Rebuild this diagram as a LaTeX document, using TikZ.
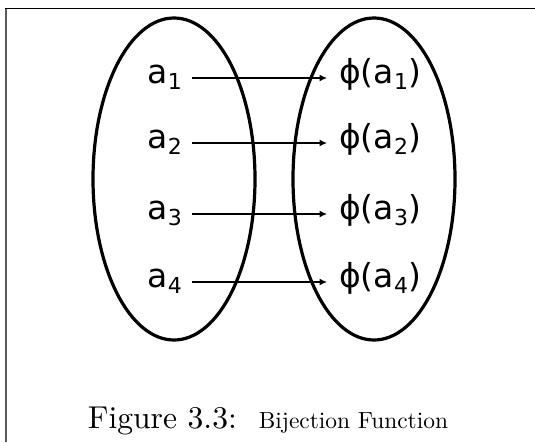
\documentclass[tikz,border=0pt]{standalone}
\usepackage{fontspec}
\newfontfamily\dejavu{DejaVu Sans}
\usetikzlibrary{arrows.meta,positioning}
\newcommand{\sbs}[1]{\raisebox{-6pt}{\fontsize{22}{22}\selectfont #1}}
\begin{document}
\begin{tikzpicture}[x=1pt,y=-1pt,>={Latex[length=7.5pt,width=7pt]}]
\tikzstyle{setline}=[line width=3.2pt]
\tikzstyle{elem}=[font=\dejavu\fontsize{33}{33}\selectfont, inner ysep=0pt, text height=10pt, text depth=0pt]
\tikzstyle{dom}=[elem, anchor=east, inner xsep=10pt]
\tikzstyle{img}=[elem, anchor=west, inner xsep=12pt]
\tikzstyle{map}=[->, line width=1.3pt]
\useasboundingbox (0,0) rectangle (535,442);
% frame
\draw[black!65, line width=1.8pt] (6,442) -- (6,8.5);
\draw[line width=1.3pt] (5.1,8.5) -- (535,8.5);
% domain and codomain
\draw[setline] (174,179) ellipse [x radius=81, y radius=161];
\draw[setline] (374,179) ellipse [x radius=81, y radius=161];
% elements
\node[dom] (a1) at (192,78) {a\sbs{1}};
\node[dom] (a2) at (192,143) {a\sbs{2}};
\node[dom] (a3) at (192,214) {a\sbs{3}};
\node[dom] (a4) at (192,282) {a\sbs{4}};
\node[img] (p1) at (327,78) {ϕ(a\sbs{1})};
\node[img] (p2) at (327,143) {ϕ(a\sbs{2})};
\node[img] (p3) at (327,214) {ϕ(a\sbs{3})};
\node[img] (p4) at (327,282) {ϕ(a\sbs{4})};
% mapping
\foreach \i in {1,...,4}
  \draw[map] (a\i) -- (p\i);
% caption
\node[anchor=base, inner sep=0pt] (cap) at (268,428) {\scalebox{3.16}{\fontsize{10}{12}\selectfont Figure 3.3:}\hspace{22pt}\scalebox{2.34}{\fontsize{10}{12}\selectfont Bijection Function}};
\end{tikzpicture}
\end{document}
